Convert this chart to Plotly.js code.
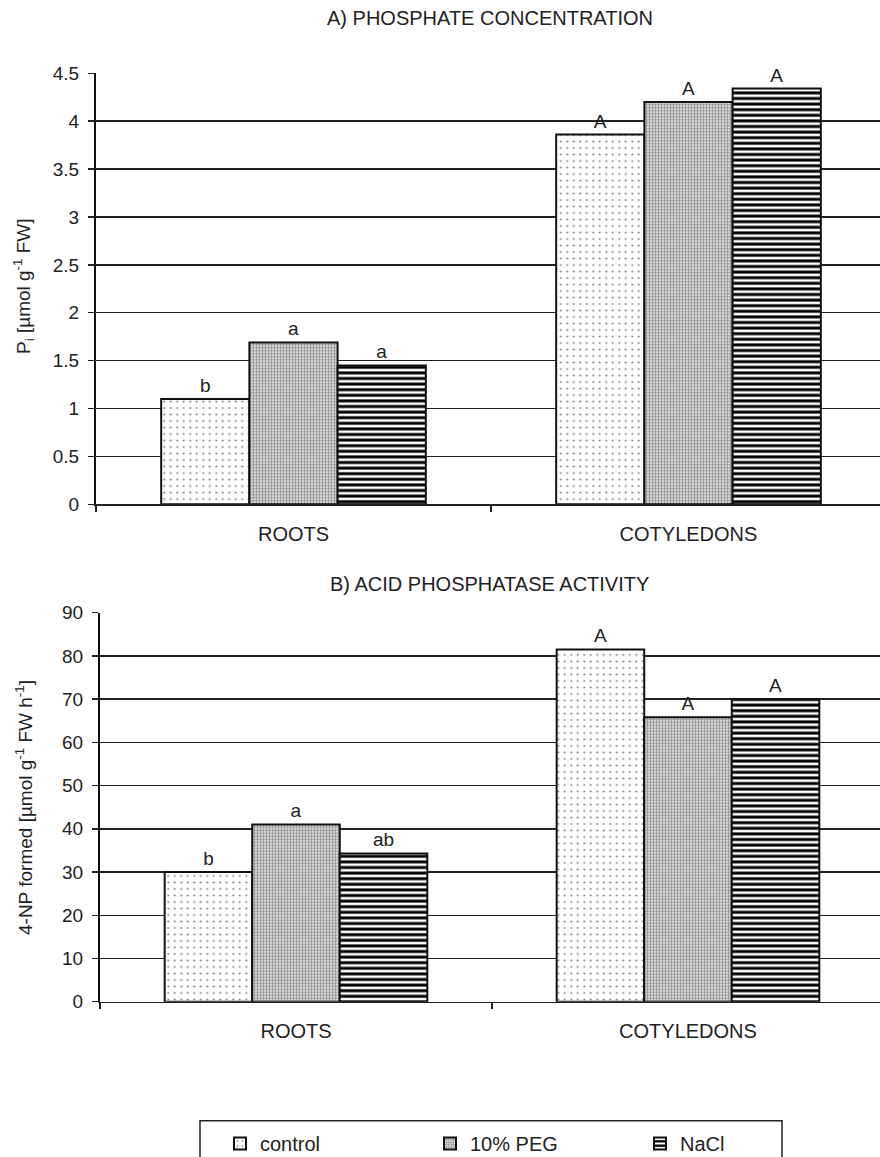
<!DOCTYPE html>
<html>
<head>
<meta charset="utf-8">
<script src="https://cdn.plot.ly/plotly-3.0.1.min.js"></script>
<style>html,body{margin:0;padding:0;background:#fff;}#chart{width:880px;height:1157px;}</style>
</head>
<body>
<div id="chart"></div>
<script>
// ---- data ----
const categories = ['ROOTS', 'COTYLEDONS'];
const seriesNames = ['control', '10% PEG', 'NaCl'];

// A) phosphate concentration, Pi [µmol g-1 FW]
const piControl = [1.10, 3.86];
const piPEG = [1.69, 4.20];
const piNaCl = [1.45, 4.34];
const piControlLetters = ['b', 'A'];
const piPEGLetters = ['a', 'A'];
const piNaClLetters = ['a', 'A'];

// B) acid phosphatase activity, 4-NP formed [µmol g-1 FW h-1]
const npControl = [30.0, 81.5];
const npPEG = [41.0, 65.8];
const npNaCl = [34.3, 70.0];
const npControlLetters = ['b', 'A'];
const npPEGLetters = ['a', 'A'];
const npNaClLetters = ['ab', 'A'];

// ---- styles ----
const FONT = 'Liberation Sans, Arial, sans-serif';
const FS = 19;
const TFS = 20;
const patterns = [
  {shape: '.', fgcolor: '#7a7a7a', bgcolor: '#ffffff', size: 6.5, solidity: 0.08},
  {shape: '+', fgcolor: '#8a8a8a', bgcolor: '#d6d6d6', size: 3, solidity: 0.4},
  {shape: '-', fgcolor: '#000000', bgcolor: '#ffffff', size: 5.6, solidity: 0.53}
];

function barTrace(i, y, letters, xa, ya, showlegend) {
  return {
    type: 'bar', name: seriesNames[i], x: categories, y: y,
    xaxis: xa, yaxis: ya, showlegend: showlegend, legendgroup: seriesNames[i],
    text: letters, textposition: 'outside', cliponaxis: false, constraintext: 'none',
    textfont: {family: FONT, size: FS, color: '#222'},
    marker: {color: patterns[i].bgcolor, pattern: patterns[i], line: {color: '#111', width: 2}},
    hoverinfo: 'x+y'
  };
}

const data = [
  barTrace(0, piControl, piControlLetters, 'x', 'y', true),
  barTrace(1, piPEG, piPEGLetters, 'x', 'y', true),
  barTrace(2, piNaCl, piNaClLetters, 'x', 'y', true),
  barTrace(0, npControl, npControlLetters, 'x2', 'y2', false),
  barTrace(1, npPEG, npPEGLetters, 'x2', 'y2', false),
  barTrace(2, npNaCl, npNaClLetters, 'x2', 'y2', false)
];

const W = 880, H = 1157;
const xAxisBase = {
  type: 'category', tickson: 'boundaries', ticks: 'outside', ticklen: 6, tickwidth: 1.5,
  tickcolor: '#222', showgrid: false, showline: true, linecolor: '#222', linewidth: 1.5,
  tickfont: {family: FONT, size: TFS, color: '#222'}, ticklabelstandoff: 11, fixedrange: true
};
const yAxisBase = {
  ticks: 'outside', ticklen: 6, tickwidth: 1.5, tickcolor: '#222',
  showgrid: true, gridcolor: '#222', gridwidth: 1.5, zeroline: false,
  showline: true, linecolor: '#111', linewidth: 2,
  tickfont: {family: FONT, size: FS, color: '#222'}, ticklabelstandoff: 5, fixedrange: true
};

const layout = {
  width: W, height: H,
  margin: {l: 0, r: 0, t: 0, b: 0, autoexpand: false},
  paper_bgcolor: '#fff', plot_bgcolor: '#fff',
  font: {family: FONT, color: '#222'},
  barmode: 'group', bargap: 0.33, bargroupgap: 0,
  title: {text: 'A) PHOSPHATE CONCENTRATION', x: 490 / W, xanchor: 'center',
          y: 1 - 18 / H, yanchor: 'middle', font: {family: FONT, size: TFS, color: '#222'}},
  xaxis: Object.assign({}, xAxisBase, {domain: [96 / W, 1], range: [-0.5, 784 / 395 - 0.5], anchor: 'y'}),
  yaxis: Object.assign({}, yAxisBase, {domain: [1 - 504.3 / H, 1 - 73.3 / H], range: [0, 4.5], dtick: 0.5, anchor: 'x'}),
  xaxis2: Object.assign({}, xAxisBase, {domain: [100 / W, 1], range: [-0.5, 780 / 392 - 0.5], anchor: 'y2'}),
  yaxis2: Object.assign({}, yAxisBase, {domain: [1 - 1001.7 / H, 1 - 612.7 / H], range: [0, 90], dtick: 10, anchor: 'x2'}),
  annotations: [
    {text: 'B) ACID PHOSPHATASE ACTIVITY', xref: 'paper', yref: 'paper', x: 490 / W, y: 1 - 584 / H,
     xanchor: 'center', yanchor: 'middle', showarrow: false, font: {family: FONT, size: TFS, color: '#222'}},
    {text: 'P<sub>i</sub> [µmol g<sup>-1</sup> FW]', xref: 'paper', yref: 'paper', x: 24 / W, y: 1 - 286 / H,
     xanchor: 'center', yanchor: 'middle', textangle: -90, showarrow: false, font: {family: FONT, size: FS, color: '#222'}},
    {text: '4-NP formed [µmol g<sup>-1</sup> FW h<sup>-1</sup>]', xref: 'paper', yref: 'paper', x: 24 / W, y: 1 - 808 / H,
     xanchor: 'center', yanchor: 'middle', textangle: -90, showarrow: false, font: {family: FONT, size: FS, color: '#222'}}
  ],
  shapes: [
    {type: 'rect', xref: 'paper', yref: 'paper', x0: 200 / W, x1: 782 / W, y0: 1 - 1165 / H, y1: 1 - 1120.7 / H,
     line: {color: '#222', width: 1.5}, fillcolor: 'rgba(0,0,0,0)', layer: 'below'}
  ],
  legend: {orientation: 'h', x: 220 / W, xanchor: 'left', y: 1 - 1124 / H, yanchor: 'top',
           borderwidth: 0, bgcolor: 'rgba(0,0,0,0)', entrywidth: 165,
           itemwidth: 30, traceorder: 'normal', font: {family: FONT, size: TFS, color: '#222'}},
  showlegend: true
};

Plotly.newPlot('chart', data, layout, {displayModeBar: false, staticPlot: true});
</script>
</body>
</html>
